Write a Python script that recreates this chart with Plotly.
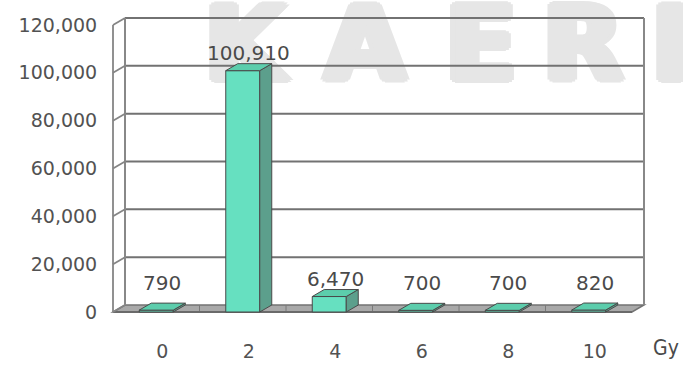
import plotly.graph_objects as go

# ---- data -------------------------------------------------------------
DOSE_LABELS = ["0", "2", "4", "6", "8", "10"]          # irradiation dose (Gy)
DOSE_COUNTS = [790, 100910, 6470, 700, 700, 820]        # count per dose
Y_TICKS = [0, 20000, 40000, 60000, 80000, 100000, 120000]
X_UNIT = "Gy"
WATERMARK = ["K", "A", "E", "R", "I"]

# ---- geometry (pixels) ------------------------------------------------
W, H = 683, 365
FRONT_LEFT, FRONT_RIGHT = 113, 632      # front edge of the floor
FRONT_BASE, FRONT_TOP = 312, 25         # y of 0 and of Y_TICKS[-1] on the front plane
DEPTH_X, DEPTH_Y = 12, 7                # 3-D depth offset of the back wall
PLOT_L, PLOT_R, PLOT_T, PLOT_B = 103, 683, 10, 320
BAR_PX = 34

n = len(DOSE_LABELS)
px_per_cat = (FRONT_RIGHT - FRONT_LEFT) / n
px_per_val = (FRONT_BASE - FRONT_TOP) / Y_TICKS[-1]


def xd(px):
    return -0.5 + (px - FRONT_LEFT) / px_per_cat


def yd(py):
    return (FRONT_BASE - py) / px_per_val


dxu = DEPTH_X / px_per_cat
dyu = DEPTH_Y / px_per_val
bar_w = BAR_PX / px_per_cat
x_range = [xd(PLOT_L), xd(PLOT_R)]
y_range = [yd(PLOT_B), yd(PLOT_T)]
x0c, x1c = -0.5, n - 0.5
y_top = Y_TICKS[-1]
cats = list(range(n))

FONT = "DejaVu Sans"
TXT = "#525252"
GRID = "#727272"
EDGE = "#888888"
OUTLINE = "#4a4a4a"
FRONT_FILL = "#66e0c0"
SIDE_FILL = "#5c9f8c"
TOP_FILL = "#5ccdac"
WM = "#e6e6e6"

fig = go.Figure()

# faint heavy watermark lettering behind everything
heavy = ", ".join(f"{dx}px {dy}px 0px {WM}" for dx, dy in
                  [(5, 0), (-5, 0), (0, 3), (0, -3), (3, 2), (-3, 2), (3, -2), (-3, -2)])
wm_px = [245, 365, 481, 583, 671]
fig.add_trace(go.Scatter(
    x=[xd(p) for p in wm_px], y=[yd(54)] * len(WATERMARK),
    mode="text", text=[f"<b>{c}</b>" for c in WATERMARK], cliponaxis=False,
    hoverinfo="skip",
    textfont=dict(family="DejaVu Sans", size=104, weight="bold", color=WM,
                  shadow=heavy),
    showlegend=False, xaxis="x", yaxis="y",
))


def line_trace(xs, ys, color, width):
    fig.add_trace(go.Scatter(x=xs, y=ys, mode="lines", hoverinfo="skip",
                             line=dict(color=color, width=width),
                             showlegend=False, xaxis="x", yaxis="y"))


# back wall gridlines
gx, gy = [], []
for v in Y_TICKS[1:]:
    gx += [x0c + dxu, x1c + dxu, None]
    gy += [v + dyu, v + dyu, None]
line_trace(gx, gy, GRID, 2)

# back wall side edges
line_trace([x0c + dxu, x0c + dxu, None, x1c + dxu, x1c + dxu],
           [dyu, y_top + dyu, None, dyu, y_top + dyu], EDGE, 2)

# front value axis and slanted connectors to the wall
cx, cy = [x0c, x0c, None], [0, y_top, None]
for v in Y_TICKS:
    cx += [x0c, x0c + dxu, None]
    cy += [v, v + dyu, None]
line_trace(cx, cy, "#858585", 1.8)

# front faces of the bars
fig.add_trace(go.Bar(
    x=cats, y=DOSE_COUNTS, width=bar_w,
    marker=dict(color=FRONT_FILL, line=dict(color=OUTLINE, width=1)),
    hoverinfo="skip", showlegend=False, xaxis="x2", yaxis="y2",
))

shapes = []


def poly(points, fill, line_color, width=1, layer="above"):
    path = "M " + " L ".join(f"{x},{y}" for x, y in points) + " Z"
    shapes.append(dict(type="path", path=path, xref="x", yref="y",
                       fillcolor=fill, line=dict(color=line_color, width=width),
                       layer=layer))


def seg(xa, ya, xb, yb, color, width, layer="between"):
    shapes.append(dict(type="line", x0=xa, y0=ya, x1=xb, y1=yb, xref="x", yref="y",
                       line=dict(color=color, width=width), layer=layer))


# floor
poly([(x0c, 0), (x1c, 0), (x1c + dxu, dyu), (x0c + dxu, dyu)],
     "#a9a9a9", "#737373", 1.5, layer="between")
for k in range(1, n):
    seg(x0c + k, 0, x0c + k, dyu, "#7a7a7a", 1)
seg(x0c, 0, x1c, 0, "#6a6a6a", 2)

# side and top faces of each bar
for i, v in zip(cats, DOSE_COUNTS):
    xl, xr = i - bar_w / 2, i + bar_w / 2
    poly([(xr, 0), (xr + dxu, dyu), (xr + dxu, v + dyu), (xr, v)], SIDE_FILL, OUTLINE)
    poly([(xl, v), (xl + dxu, v + dyu), (xr + dxu, v + dyu), (xr, v)], TOP_FILL, OUTLINE)

# value labels above the bars (short bars share a common baseline)
LABEL_FLOOR = 4600
annotations = []
for i, v in zip(cats, DOSE_COUNTS):
    annotations.append(dict(
        x=i + dxu / 2, y=max(v, LABEL_FLOOR), xref="x", yref="y",
        text=f"{v:,}", showarrow=False, yanchor="middle", yshift=18,
        font=dict(family=FONT, size=20, color="#4a4a4a"),
    ))


def paper_x(px):
    return (px - PLOT_L) / (PLOT_R - PLOT_L)


def paper_y(py):
    return (PLOT_B - py) / (PLOT_B - PLOT_T)


annotations.append(dict(
    x=paper_x(666), y=paper_y(348), xref="paper", yref="paper", text=X_UNIT,
    showarrow=False, xanchor="center", yanchor="middle",
    font=dict(family="DejaVu Sans Condensed", size=21, color="#4a4a4a"),
))

axis_common = dict(showgrid=False, zeroline=False, showline=False,
                   fixedrange=True, automargin=False)
fig.update_layout(
    width=W, height=H,
    margin=dict(l=PLOT_L, r=W - PLOT_R, t=PLOT_T, b=H - PLOT_B, pad=0,
                autoexpand=False),
    paper_bgcolor="white", plot_bgcolor="rgba(0,0,0,0)",
    xaxis=dict(range=x_range, tickmode="array",
               tickvals=[c + dxu / 2 for c in cats], ticktext=DOSE_LABELS,
               ticks="outside", ticklen=14, tickcolor="rgba(0,0,0,0)",
               tickfont=dict(family=FONT, size=19, color=TXT), **axis_common),
    yaxis=dict(range=y_range, tickmode="array", tickvals=Y_TICKS,
               ticktext=[f"{t:,}" for t in Y_TICKS],
               ticks="outside", ticklen=1, tickcolor="rgba(0,0,0,0)",
               tickfont=dict(family=FONT, size=19, color=TXT), **axis_common),
    xaxis2=dict(range=x_range, overlaying="x", visible=False, **axis_common),
    yaxis2=dict(range=y_range, overlaying="y", visible=False, **axis_common),
    shapes=shapes, annotations=annotations, showlegend=False,
)

fig.write_html("out.html")
